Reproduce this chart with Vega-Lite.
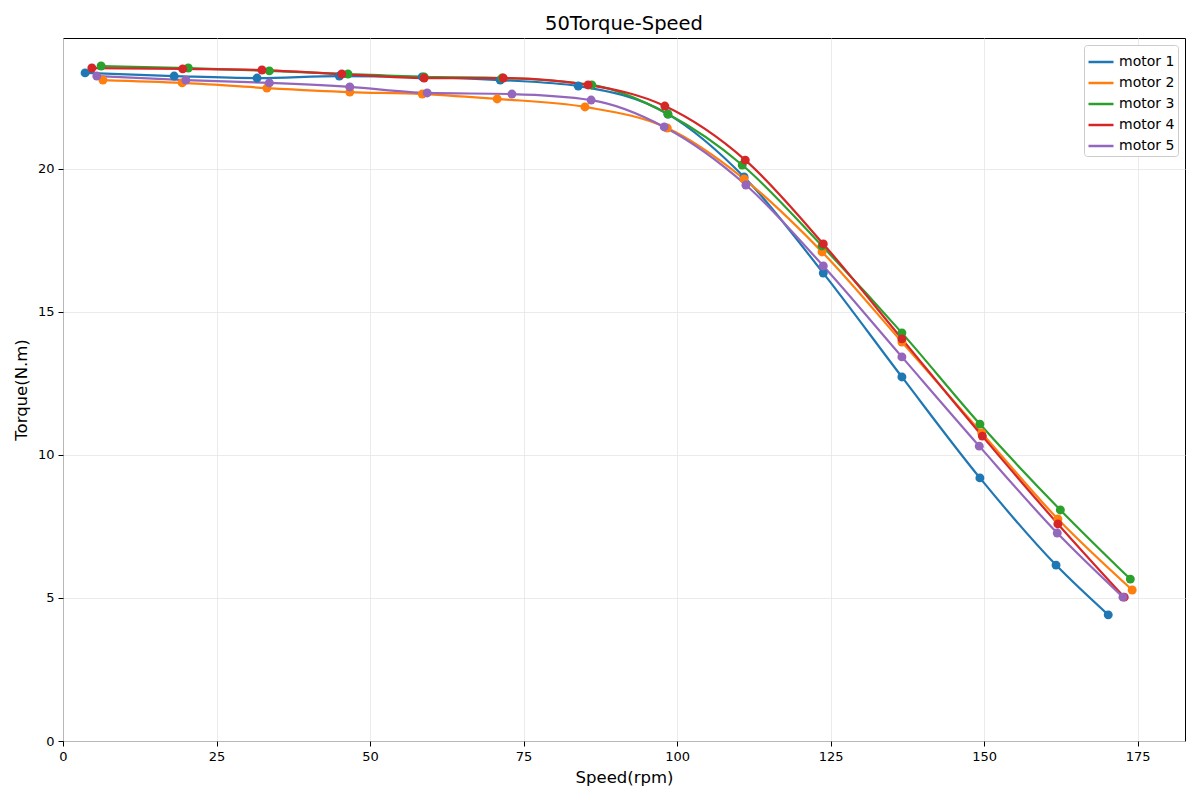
{
  "$schema": "https://vega.github.io/schema/vega-lite/v6.json",
  "width": 1122,
  "height": 703,
  "autosize": {"type": "none"},
  "padding": {"left": 63, "top": 38, "right": 15, "bottom": 59},
  "background": "white",
  "title": {"text": "50Torque-Speed", "fontSize": 19.5, "fontWeight": "normal", "font": "DejaVu Sans", "color": "black", "offset": 4},
  "config": {
    "font": "DejaVu Sans",
    "view": {"stroke": "black", "strokeWidth": 1},
    "axis": {"labelFontSize": 13, "titleFontSize": 16.5, "titleFontWeight": "normal", "labelColor": "black", "titleColor": "black", "tickColor": "black", "domain": false, "tickSize": 5, "gridColor": "#e6e6e6", "gridWidth": 0.8, "labelPadding": 4, "labelFlush": false}
  },
  "data": {"values": [
    {"motor": "motor 1", "speed": 3.6, "torque": 23.36},
    {"motor": "motor 1", "speed": 18.1, "torque": 23.25},
    {"motor": "motor 1", "speed": 31.6, "torque": 23.18},
    {"motor": "motor 1", "speed": 45.0, "torque": 23.25},
    {"motor": "motor 1", "speed": 58.5, "torque": 23.22},
    {"motor": "motor 1", "speed": 71.2, "torque": 23.11},
    {"motor": "motor 1", "speed": 83.9, "torque": 22.90},
    {"motor": "motor 1", "speed": 98.5, "torque": 21.92},
    {"motor": "motor 1", "speed": 110.9, "torque": 19.72},
    {"motor": "motor 1", "speed": 123.8, "torque": 16.36},
    {"motor": "motor 1", "speed": 136.6, "torque": 12.73},
    {"motor": "motor 1", "speed": 149.3, "torque": 9.20},
    {"motor": "motor 1", "speed": 161.7, "torque": 6.15},
    {"motor": "motor 1", "speed": 170.2, "torque": 4.41},
    {"motor": "motor 2", "speed": 6.5, "torque": 23.11},
    {"motor": "motor 2", "speed": 19.4, "torque": 23.01},
    {"motor": "motor 2", "speed": 33.2, "torque": 22.83},
    {"motor": "motor 2", "speed": 46.7, "torque": 22.69},
    {"motor": "motor 2", "speed": 58.5, "torque": 22.62},
    {"motor": "motor 2", "speed": 70.7, "torque": 22.45},
    {"motor": "motor 2", "speed": 85.0, "torque": 22.17},
    {"motor": "motor 2", "speed": 98.4, "torque": 21.43},
    {"motor": "motor 2", "speed": 110.9, "torque": 19.65},
    {"motor": "motor 2", "speed": 123.6, "torque": 17.10},
    {"motor": "motor 2", "speed": 136.6, "torque": 13.95},
    {"motor": "motor 2", "speed": 149.6, "torque": 10.77},
    {"motor": "motor 2", "speed": 162.0, "torque": 7.76},
    {"motor": "motor 2", "speed": 174.1, "torque": 5.28},
    {"motor": "motor 3", "speed": 6.2, "torque": 23.60},
    {"motor": "motor 3", "speed": 20.4, "torque": 23.53},
    {"motor": "motor 3", "speed": 33.6, "torque": 23.43},
    {"motor": "motor 3", "speed": 46.4, "torque": 23.32},
    {"motor": "motor 3", "speed": 58.8, "torque": 23.22},
    {"motor": "motor 3", "speed": 71.5, "torque": 23.18},
    {"motor": "motor 3", "speed": 86.1, "torque": 22.94},
    {"motor": "motor 3", "speed": 98.5, "torque": 21.92},
    {"motor": "motor 3", "speed": 110.6, "torque": 20.14},
    {"motor": "motor 3", "speed": 123.6, "torque": 17.31},
    {"motor": "motor 3", "speed": 136.6, "torque": 14.27},
    {"motor": "motor 3", "speed": 149.3, "torque": 11.08},
    {"motor": "motor 3", "speed": 162.4, "torque": 8.08},
    {"motor": "motor 3", "speed": 173.8, "torque": 5.66},
    {"motor": "motor 4", "speed": 4.7, "torque": 23.53},
    {"motor": "motor 4", "speed": 19.5, "torque": 23.50},
    {"motor": "motor 4", "speed": 32.4, "torque": 23.46},
    {"motor": "motor 4", "speed": 45.4, "torque": 23.32},
    {"motor": "motor 4", "speed": 58.8, "torque": 23.18},
    {"motor": "motor 4", "speed": 71.7, "torque": 23.18},
    {"motor": "motor 4", "speed": 85.5, "torque": 22.94},
    {"motor": "motor 4", "speed": 98.0, "torque": 22.20},
    {"motor": "motor 4", "speed": 111.1, "torque": 20.31},
    {"motor": "motor 4", "speed": 123.8, "torque": 17.38},
    {"motor": "motor 4", "speed": 136.6, "torque": 14.06},
    {"motor": "motor 4", "speed": 149.7, "torque": 10.66},
    {"motor": "motor 4", "speed": 162.0, "torque": 7.59},
    {"motor": "motor 4", "speed": 172.8, "torque": 5.03},
    {"motor": "motor 5", "speed": 5.5, "torque": 23.25},
    {"motor": "motor 5", "speed": 20.0, "torque": 23.11},
    {"motor": "motor 5", "speed": 33.6, "torque": 23.01},
    {"motor": "motor 5", "speed": 46.7, "torque": 22.87},
    {"motor": "motor 5", "speed": 59.3, "torque": 22.66},
    {"motor": "motor 5", "speed": 73.1, "torque": 22.62},
    {"motor": "motor 5", "speed": 86.0, "torque": 22.41},
    {"motor": "motor 5", "speed": 97.9, "torque": 21.47},
    {"motor": "motor 5", "speed": 111.2, "torque": 19.44},
    {"motor": "motor 5", "speed": 123.8, "torque": 16.61},
    {"motor": "motor 5", "speed": 136.6, "torque": 13.43},
    {"motor": "motor 5", "speed": 149.2, "torque": 10.31},
    {"motor": "motor 5", "speed": 161.9, "torque": 7.27},
    {"motor": "motor 5", "speed": 172.6, "torque": 5.03}
  ]},
  "encoding": {
    "x": {"field": "speed", "type": "quantitative", "title": "Speed(rpm)", "scale": {"domain": [0, 182.7], "nice": false, "zero": false}, "axis": {"values": [0, 25, 50, 75, 100, 125, 150, 175], "titlePadding": 6}},
    "y": {"field": "torque", "type": "quantitative", "title": "Torque(N.m)", "scale": {"domain": [0, 24.58], "nice": false, "zero": false}, "axis": {"values": [0, 5, 10, 15, 20], "titlePadding": 8}},
    "color": {"field": "motor", "type": "nominal", "scale": {"domain": ["motor 1", "motor 2", "motor 3", "motor 4", "motor 5"], "range": ["#1f77b4", "#ff7f0e", "#2ca02c", "#d62728", "#9467bd"]}}
  },
  "layer": [
    {
      "mark": {"type": "line", "interpolate": "monotone", "strokeWidth": 2.2},
      "encoding": {
        "color": {"field": "motor", "type": "nominal", "legend": {"title": null, "orient": "top-right", "offset": 7, "symbolType": "stroke", "symbolStrokeWidth": 2.5, "symbolSize": 625, "labelFontSize": 14, "labelColor": "black", "rowPadding": -4, "fillColor": "white", "strokeColor": "#cccccc", "padding": 3, "cornerRadius": 3}}
      }
    },
    {
      "mark": {"type": "point", "filled": true, "opacity": 1, "size": 80},
      "encoding": {
        "color": {"field": "motor", "type": "nominal", "legend": null}
      }
    }
  ]
}
